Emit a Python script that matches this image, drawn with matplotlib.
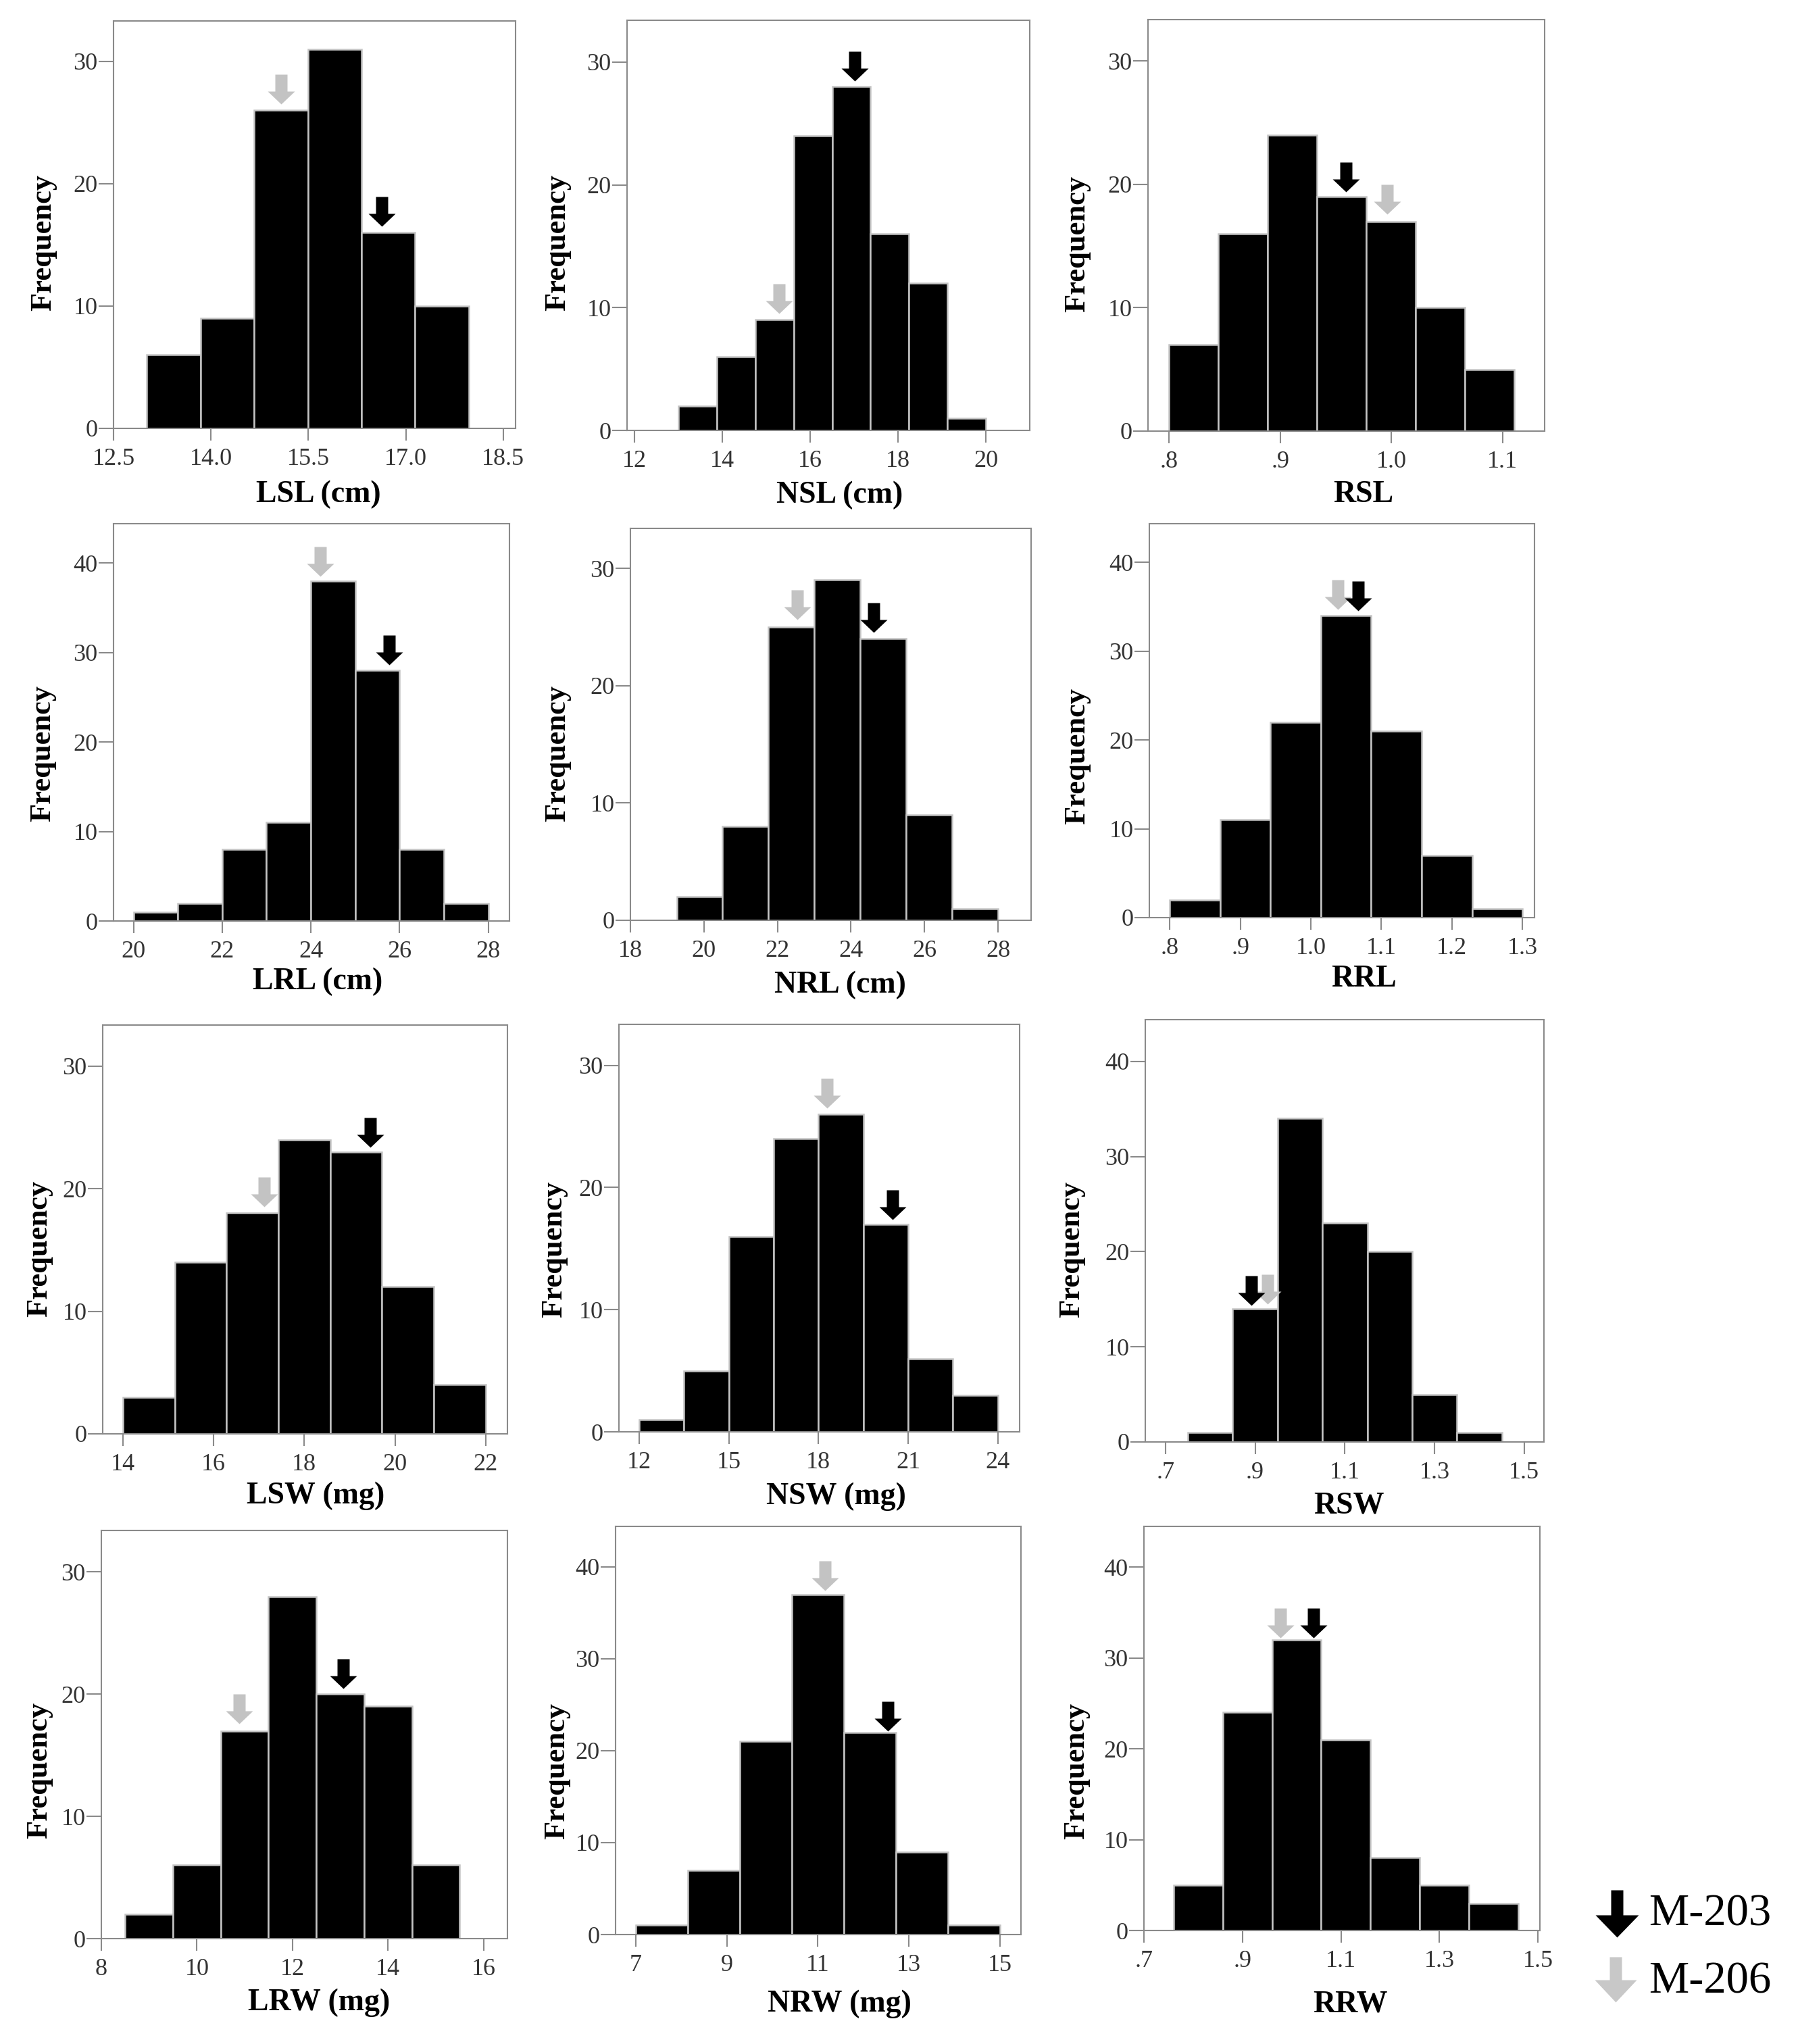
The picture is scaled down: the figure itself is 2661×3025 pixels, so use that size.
import numpy as np
import matplotlib
matplotlib.use("Agg")
import matplotlib.pyplot as plt
from matplotlib.path import Path

# ---------------- data ----------------
names = ["LSL (cm)", "NSL (cm)", "RSL",
         "LRL (cm)", "NRL (cm)", "RRL",
         "LSW (mg)", "NSW (mg)", "RSW",
         "LRW (mg)", "NRW (mg)", "RRW"]

counts = [
    [6, 9, 26, 31, 16, 10],
    [2, 6, 9, 24, 28, 16, 12, 1],
    [7, 16, 24, 19, 17, 10, 5],
    [1, 2, 8, 11, 38, 28, 8, 2],
    [2, 8, 25, 29, 24, 9, 1],
    [2, 11, 22, 34, 21, 7, 1],
    [3, 14, 18, 24, 23, 12, 4],
    [1, 5, 16, 24, 26, 17, 6, 3],
    [1, 14, 34, 23, 20, 5, 1],
    [2, 6, 17, 28, 20, 19, 6],
    [1, 7, 21, 37, 22, 9, 1],
    [5, 24, 32, 21, 8, 5, 3],
]

bin_start = [13.01, 13.0, 0.8, 20.0, 19.26, 0.8, 14.0, 12.0, 0.75, 8.5, 7.0, 0.76]
bin_width = [0.827, 0.875, 0.0444, 1.0, 1.248, 0.0714, 1.143, 1.5, 0.1, 1.0, 1.143, 0.1]

xtick_vals = [
    [12.5, 14.0, 15.5, 17.0, 18.5],
    [12, 14, 16, 18, 20],
    [0.8, 0.9, 1.0, 1.1],
    [20, 22, 24, 26, 28],
    [18, 20, 22, 24, 26, 28],
    [0.8, 0.9, 1.0, 1.1, 1.2, 1.3],
    [14, 16, 18, 20, 22],
    [12, 15, 18, 21, 24],
    [0.7, 0.9, 1.1, 1.3, 1.5],
    [8, 10, 12, 14, 16],
    [7, 9, 11, 13, 15],
    [0.7, 0.9, 1.1, 1.3, 1.5],
]
xtick_labels = [
    ["12.5", "14.0", "15.5", "17.0", "18.5"],
    ["12", "14", "16", "18", "20"],
    [".8", ".9", "1.0", "1.1"],
    ["20", "22", "24", "26", "28"],
    ["18", "20", "22", "24", "26", "28"],
    [".8", ".9", "1.0", "1.1", "1.2", "1.3"],
    ["14", "16", "18", "20", "22"],
    ["12", "15", "18", "21", "24"],
    [".7", ".9", "1.1", "1.3", "1.5"],
    ["8", "10", "12", "14", "16"],
    ["7", "9", "11", "13", "15"],
    [".7", ".9", "1.1", "1.3", "1.5"],
]
ytick_max = [30, 30, 30, 40, 30, 40, 30, 30, 40, 30, 40, 40]

# arrow tips (x value, frequency) for the two samples
m203 = [(16.63, 16.5), (17.02, 28.45), (0.959, 19.4),
        (25.77, 28.6), (24.62, 24.56), (1.067, 34.55),
        (19.46, 23.37), (20.47, 17.35), (0.892, 14.34),
        (13.06, 20.44), (12.53, 22.1), (1.044, 32.2)]
m206 = [(15.08, 26.5), (15.29, 9.5), (0.996, 17.57),
        (24.21, 38.5), (22.54, 25.65), (1.0386, 34.66),
        (17.12, 18.5), (18.29, 26.47), (0.927, 14.5),
        (10.89, 17.57), (11.15, 37.4), (0.977, 32.2)]

# ---------------- layout ----------------
W, H = 2661, 3025
DPI = 100

# axes boxes in pixels: left, top, right, bottom
boxes = [
    (168, 31, 763, 634), (928, 30, 1524, 637), (1699, 29, 2286, 638),
    (168, 775, 754, 1363), (933, 782, 1526, 1362), (1701, 775, 2271, 1358),
    (152, 1517, 751, 2122), (916, 1516, 1509, 2119), (1695, 1509, 2285, 2134),
    (150, 2265, 751, 2869), (911, 2259, 1511, 2863), (1693, 2259, 2279, 2857),
]
xlims = [(12.5, 18.69), (11.83, 21.0), (0.781, 1.138),
         (19.55, 28.48), (18.0, 28.9), (0.771, 1.317),
         (13.556, 22.48), (11.325, 24.73), (0.655, 1.544),
         (8.0, 16.5), (6.557, 15.46), (0.7, 1.504)]
ytops = [33.3, 33.4, 33.36, 44.4, 33.4, 44.35, 33.35, 33.35, 44.4, 33.4, 44.4, 44.5]

# label centres in pixels relative to the axes box
xlab_dx = [6, 17, 25, 9, 14, 33, 16, 25, 6, 22, 31, 12]
xlab_dy = [96, 94, 92, 88, 94, 89, 90, 94, 92, 93, 101, 107]
ylab_dist = [103, 102, 104, 104, 107, 106, 93, 95, 108, 91, 86, 99]
ylab_dy = [27, 25, 28, 46, 43, 53, 29, 31, 28, 53, 60, 63]

BLACK = "black"
GREY = "#c3c3c3"
FRAME = "#8a8a8a"
TICKTXT = "#333333"
SERIF = "Liberation Serif"


def arrow_marker(half_head, head_h, half_shaft, total_h):
    # block arrow pointing down, tip at the origin (pixel units)
    verts = [(0, 0), (half_head, head_h), (half_shaft, head_h), (half_shaft, total_h),
             (-half_shaft, total_h), (-half_shaft, head_h), (-half_head, head_h), (0, 0)]
    codes = [Path.MOVETO] + [Path.LINETO] * 6 + [Path.CLOSEPOLY]
    size = 2 * max(total_h, half_head) * 72.0 / DPI
    return Path(verts, codes), size


plt.rcParams["font.family"] = SERIF
fig = plt.figure(figsize=(W / DPI, H / DPI), dpi=DPI)
fig.patch.set_facecolor("white")

small_arrow, small_ms = arrow_marker(20, 19, 9, 44)

for i in range(12):
    l, t, r, b = boxes[i]
    aw, ah = r - l, b - t
    ax = fig.add_axes([l / W, 1 - b / H, aw / W, ah / H])
    lefts = bin_start[i] + bin_width[i] * np.arange(len(counts[i]))
    ax.bar(lefts, counts[i], width=bin_width[i], align="edge",
           color=BLACK, edgecolor="#c4c4c4", linewidth=1.8, zorder=2)
    ax.set_xlim(*xlims[i])
    ax.set_ylim(0, ytops[i])
    ax.set_xticks(xtick_vals[i])
    ax.set_xticklabels(xtick_labels[i])
    ax.set_yticks(np.arange(0, ytick_max[i] + 1, 10))

    for s in ax.spines.values():
        s.set_color(FRAME)
        s.set_linewidth(1.5)
    ax.tick_params(axis="both", direction="out", width=1.5, color=FRAME,
                   labelsize=26, labelcolor=TICKTXT)
    ax.tick_params(axis="y", length=16, pad=1)
    ax.tick_params(axis="x", length=13, pad=8)

    ax.set_xlabel(names[i], fontsize=33, fontweight="bold")
    ax.set_ylabel("Frequency", fontsize=32, fontweight="bold")
    # anchors: top of x label, descent side of the rotated y label
    ax.xaxis.set_label_coords(0.5 + xlab_dx[i] / aw, -(xlab_dy[i] - 19) / ah)
    ax.yaxis.set_label_coords(-(ylab_dist[i] - 19) / aw, 0.5 - ylab_dy[i] / ah)

    # grey first, black on top
    ax.plot([m206[i][0]], [m206[i][1]], marker=small_arrow, markersize=small_ms,
            color=GREY, markeredgewidth=0, linestyle="none", clip_on=False, zorder=5)
    ax.plot([m203[i][0]], [m203[i][1]], marker=small_arrow, markersize=small_ms,
            color=BLACK, markeredgewidth=0, linestyle="none", clip_on=False, zorder=6)

# legend drawn on an overlay in pixel coordinates
ov = fig.add_axes([0, 0, 1, 1])
ov.set_xlim(0, W)
ov.set_ylim(H, 0)
ov.axis("off")

big_black, big_ms_b = arrow_marker(32, 33, 9, 70)
big_grey, big_ms_g = arrow_marker(31, 33, 9, 67)
ov.plot([2393], [2867], marker=big_black, markersize=big_ms_b, color=BLACK,
        markeredgewidth=0, linestyle="none")
ov.plot([2391], [2963], marker=big_grey, markersize=big_ms_g, color="#c8c8c8",
        markeredgewidth=0, linestyle="none")
ov.text(2440, 2850, "M-203", fontsize=48, ha="left", va="baseline", color="black")
ov.text(2440, 2950, "M-206", fontsize=48, ha="left", va="baseline", color="black")

fig.savefig("out.png", dpi=DPI, facecolor="white")
